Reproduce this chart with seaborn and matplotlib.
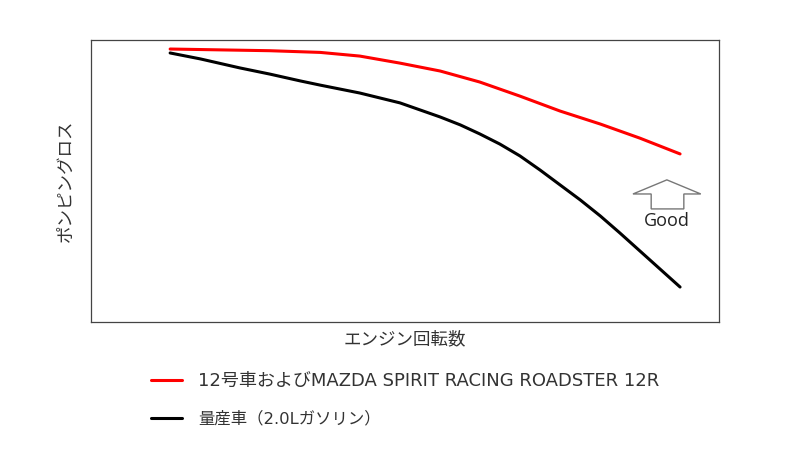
import matplotlib
matplotlib.use("Agg")
import matplotlib.pyplot as plt
from matplotlib.patches import Polygon
import seaborn as sns
import pandas as pd

# engine speed (relative units) and pumping loss (relative units)
rpm_12r = [12.6, 20.5, 28.5, 36.5, 42.8, 49.2, 55.6, 61.9, 68.3, 74.7, 81.1, 87.4, 93.8]
loss_12r = [96.8, 96.5, 96.2, 95.6, 94.3, 91.8, 89.0, 85.1, 80.1, 74.8, 70.2, 65.2, 59.6]

rpm_std = [12.6, 17.4, 23.7, 28.5, 33.3, 36.5, 42.8, 49.2, 55.6, 58.8, 61.9, 65.1,
           68.3, 71.5, 74.7, 77.9, 81.1, 84.2, 87.4, 90.6, 93.8]
loss_std = [95.4, 93.3, 90.1, 87.9, 85.5, 84.0, 81.2, 77.7, 72.7, 69.9, 66.7, 63.1,
            58.9, 53.9, 48.6, 43.3, 37.6, 31.6, 25.2, 18.8, 12.4]

series_names = ["12号車およびMAZDA SPIRIT RACING ROADSTER 12R", "量産車（2.0Lガソリン）"]
series_colors = ["#ff0000", "#000000"]

sns.set_style("white")
plt.rcParams['font.family'] = ['Open Sans', 'Noto Sans CJK JP', 'DejaVu Sans']

df = pd.concat([
    pd.DataFrame({"rpm": rpm_12r, "loss": loss_12r, "car": series_names[0]}),
    pd.DataFrame({"rpm": rpm_std, "loss": loss_std, "car": series_names[1]}),
])

fig = plt.figure(figsize=(7.92, 4.55), dpi=100)
ax = fig.add_axes([91 / 792, 1 - 322 / 455, 628 / 792, 282 / 455])

sns.lineplot(data=df, x="rpm", y="loss", hue="car", palette=series_colors,
             linewidth=2.2, sort=False, ax=ax, legend=False)
for ln in ax.lines:
    ln.set_solid_joinstyle("round")

ax.set_xlim(0, 100)
ax.set_ylim(0, 100)
ax.set_xticks([])
ax.set_yticks([])
for s in ax.spines.values():
    s.set_color("#444444")
    s.set_linewidth(0.9)

ax.set_xlabel("エンジン回転数", fontsize=12.6, color="#333333", labelpad=7)
ax.set_ylabel("ポンピングロス", fontsize=12.6, color="#333333", labelpad=12)

# "Good" arrow
arrow = Polygon([(91.7, 50.4), (97.1, 45.4), (94.4, 45.4), (94.4, 40.1),
                 (89.2, 40.1), (89.2, 45.4), (86.3, 45.4)],
                closed=True, facecolor="white", edgecolor="#777777", linewidth=1)
ax.add_patch(arrow)
ax.text(91.7, 35.8, "Good", ha="center", va="center", fontsize=13, color="#222222")

handles = [plt.Line2D([], [], color=c, linewidth=2.2) for c in series_colors]
leg = fig.legend(handles, series_names, loc="upper left", bbox_to_anchor=(151 / 792, 1 - 372 / 455),
                 frameon=False, prop={"family": ["DejaVu Sans", "Noto Sans CJK JP"], "size": 12},
                 handlelength=1.85, handletextpad=1.0,
                 labelspacing=1.25, borderpad=0, borderaxespad=0, labelcolor="#333333")
leg.get_texts()[0].set_fontsize(13)
leg.get_texts()[1].set_fontsize(11.8)

fig.savefig("out.png", dpi=100)
